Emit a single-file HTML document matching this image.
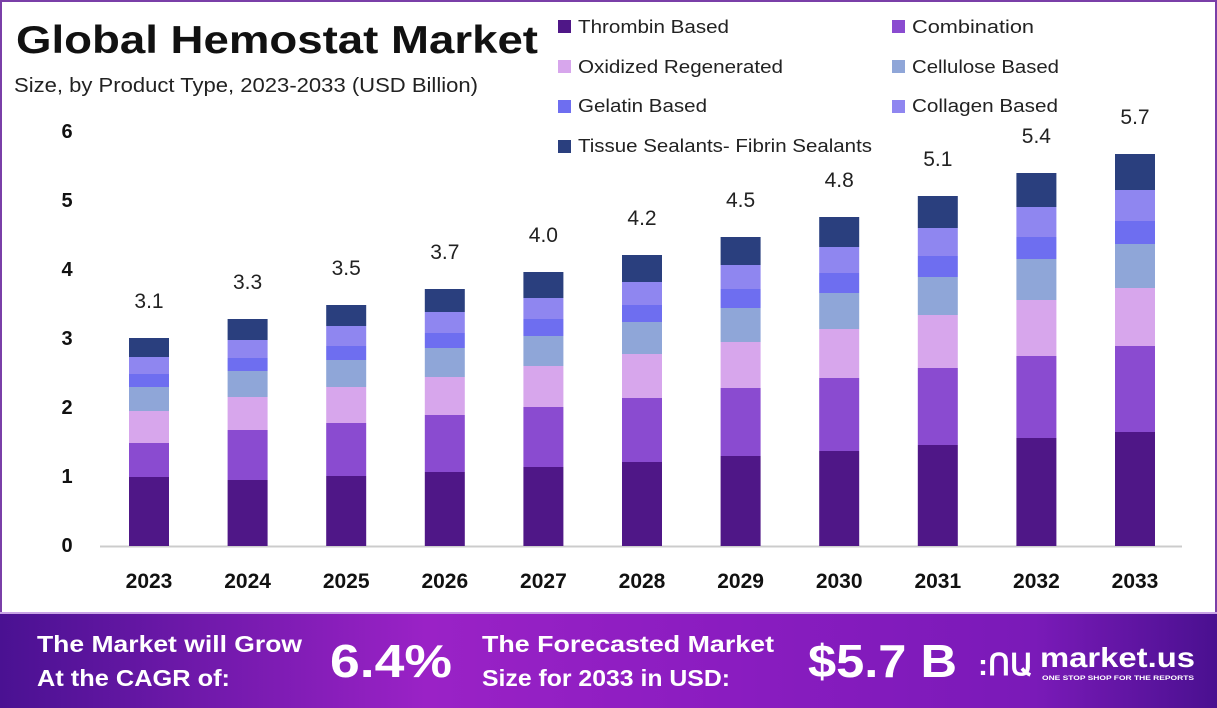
<!DOCTYPE html>
<html><head><meta charset="utf-8"><style>
html,body{margin:0;padding:0;width:1217px;height:708px;overflow:hidden;background:#fff;font-family:"Liberation Sans",sans-serif}
</style></head><body>
<svg id="s" width="1217" height="708" xmlns="http://www.w3.org/2000/svg" style="position:absolute;left:0;top:0">
<defs>
<linearGradient id="g" x1="0" x2="1" y1="0" y2="0">
<stop offset="0" stop-color="#4a1192"/><stop offset="0.35" stop-color="#9a22c6"/><stop offset="0.6" stop-color="#8a1cc0"/><stop offset="0.85" stop-color="#7a1ab8"/><stop offset="1" stop-color="#4a1090"/>
</linearGradient>
</defs>
<rect x="1" y="1" width="1215" height="706" fill="#fff" stroke="#7a3fa8" stroke-width="2"/>
<rect x="0" y="612" width="1217" height="96" fill="url(#g)"/>
<rect x="0" y="612" width="1217" height="2" fill="#c9a3e6"/>
<text x="16" y="53" font-size="39" font-weight="bold" fill="#111" textLength="522" lengthAdjust="spacingAndGlyphs">Global Hemostat Market</text>
<text x="14" y="92" font-size="20" fill="#222" textLength="464" lengthAdjust="spacingAndGlyphs">Size, by Product Type, 2023-2033 (USD Billion)</text>
<line x1="100" y1="546.5" x2="1182" y2="546.5" stroke="#ccc" stroke-width="2"/>
<g id="bars"></g>
<g font-size="18.5" fill="#222">
<rect x="558" y="20" width="13" height="13" fill="#4f1787"/><text x="578" y="33" textLength="151" lengthAdjust="spacingAndGlyphs">Thrombin Based</text>
<rect x="892" y="20" width="13" height="13" fill="#8a4bd0"/><text x="912" y="33" textLength="122" lengthAdjust="spacingAndGlyphs">Combination</text>
<rect x="558" y="60" width="13" height="13" fill="#d7a6ec"/><text x="578" y="73" textLength="205" lengthAdjust="spacingAndGlyphs">Oxidized Regenerated</text>
<rect x="892" y="60" width="13" height="13" fill="#8fa6d8"/><text x="912" y="73" textLength="147" lengthAdjust="spacingAndGlyphs">Cellulose Based</text>
<rect x="558" y="100" width="13" height="13" fill="#6e6ef0"/><text x="578" y="112" textLength="129" lengthAdjust="spacingAndGlyphs">Gelatin Based</text>
<rect x="892" y="100" width="13" height="13" fill="#8f86f0"/><text x="912" y="112" textLength="146" lengthAdjust="spacingAndGlyphs">Collagen Based</text>
<rect x="558" y="140" width="13" height="13" fill="#2a3f7e"/><text x="578" y="152" textLength="294" lengthAdjust="spacingAndGlyphs">Tissue Sealants- Fibrin Sealants</text>
</g>
<g font-size="20" font-weight="bold" fill="#111" text-anchor="middle">
<text x="67" y="552">0</text><text x="67" y="483">1</text><text x="67" y="414">2</text><text x="67" y="345">3</text><text x="67" y="276">4</text><text x="67" y="207">5</text><text x="67" y="138">6</text>
</g>
<g fill="#fff" font-weight="bold">
<text x="37" y="652" font-size="23" textLength="265" lengthAdjust="spacingAndGlyphs">The Market will Grow</text>
<text x="37" y="686" font-size="23" textLength="193" lengthAdjust="spacingAndGlyphs">At the CAGR of:</text>
<text x="330" y="677" font-size="46" textLength="122" lengthAdjust="spacingAndGlyphs">6.4%</text>
<text x="482" y="652" font-size="23" textLength="292" lengthAdjust="spacingAndGlyphs">The Forecasted Market</text>
<text x="482" y="686" font-size="23" textLength="248" lengthAdjust="spacingAndGlyphs">Size for 2033 in USD:</text>
<text x="808" y="677" font-size="46" textLength="149" lengthAdjust="spacingAndGlyphs">$5.7 B</text>
<text x="1040" y="667" font-size="28" textLength="155" lengthAdjust="spacingAndGlyphs">market.us</text>
<text x="1042" y="680" font-size="6.5" textLength="152" lengthAdjust="spacingAndGlyphs">ONE STOP SHOP FOR THE REPORTS</text>
<text x="978" y="675" font-size="30">:ՈԱ</text>
</g>
</svg>
<script>
var d=[[338,357,374,387,411,443,477],[319,340,358,371,397,430,480],[305,326,346,360,387,423,476],[289,312,333,348,377,415,472],[272,298,319,336,366,407,467],[255,282,305,322,354,398,462],[237,265,289,308,342,388,456],[217,247,273,293,329,378,451],[196,228,256,277,315,368,445],[173,207,237,259,300,356,438],[154,190,221,244,288,346,432]];
var c=["#2a3f7e","#8f86f0","#6e6ef0","#8fa6d8","#d7a6ec","#8a4bd0","#4f1787"];
var v=["3.1","3.3","3.5","3.7","4.0","4.2","4.5","4.8","5.1","5.4","5.7"];
var h="";
for(var i=0;i<11;i++){var cx=149+i*98.6,x=cx-20;
for(var j=0;j<7;j++){var y0=d[i][j],y1=j<6?d[i][j+1]:546;h+='<rect x="'+x+'" y="'+y0+'" width="40" height="'+(y1-y0)+'" fill="'+c[j]+'"/>';}
h+='<text x="'+cx+'" y="'+(d[i][0]-30)+'" font-size="21" fill="#222" text-anchor="middle">'+v[i]+'</text>';
h+='<text x="'+cx+'" y="588" font-size="21" font-weight="bold" fill="#111" text-anchor="middle">'+(2023+i)+'</text>';}
document.getElementById("bars").innerHTML=h;
</script>
</body></html>
